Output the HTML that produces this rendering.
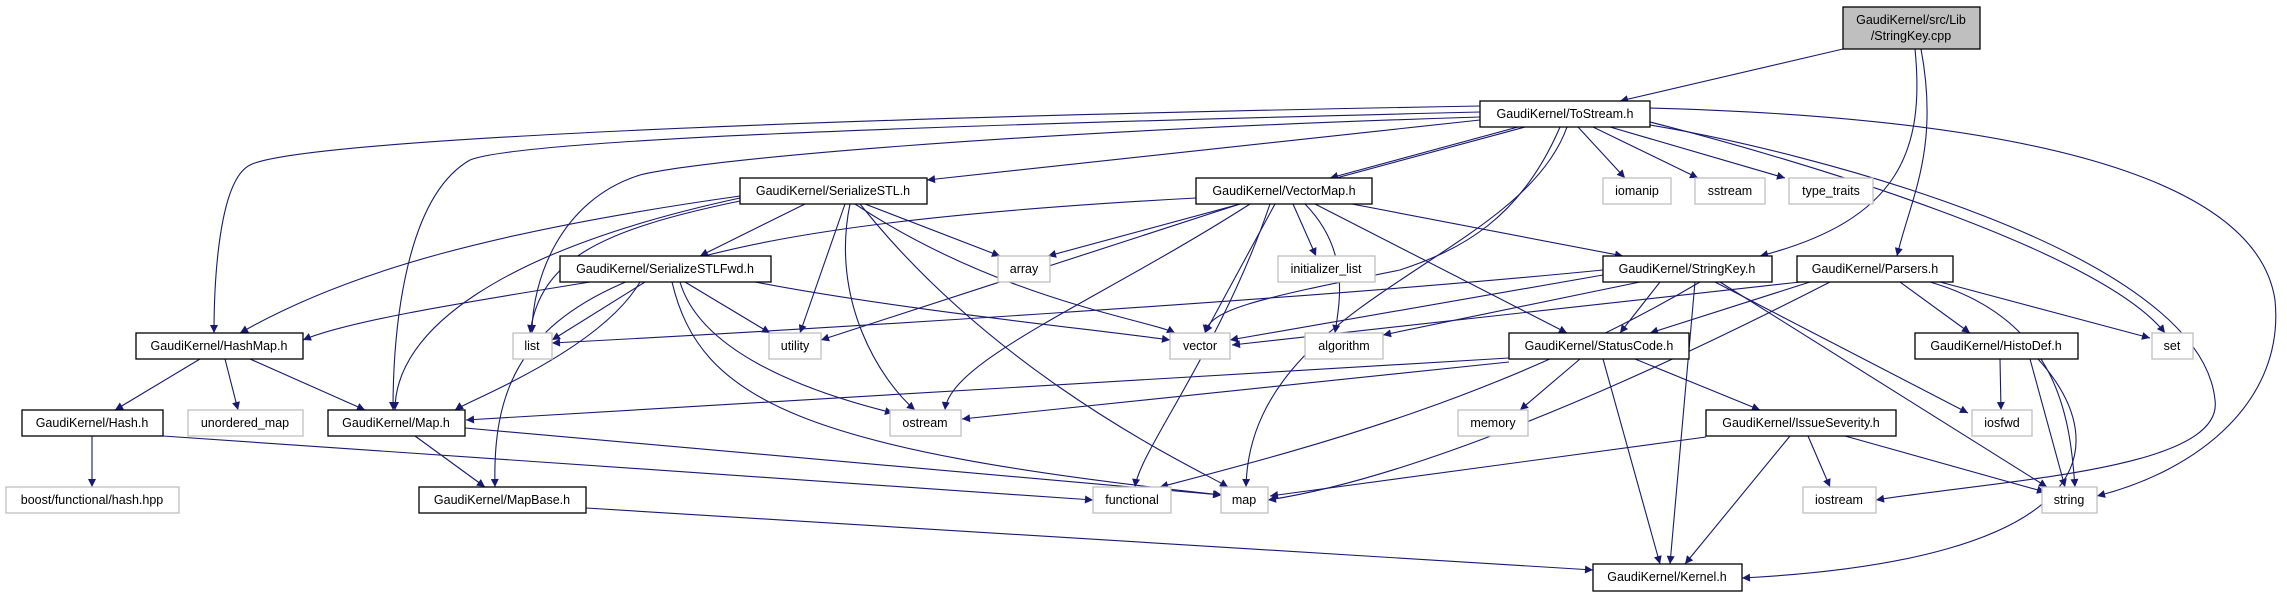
<!DOCTYPE html>
<html><head><meta charset="utf-8"><style>
html,body{margin:0;padding:0;background:#fff;}
svg{display:block;}
text{font-family:"Liberation Sans",sans-serif;font-size:12.5px;fill:#000;text-anchor:middle;dominant-baseline:central;}
.n{fill:#fff;stroke:#000;stroke-width:1.3;}
.g{fill:#fff;stroke:#bfbfbf;stroke-width:1.3;}
.e path{fill:none;stroke:#191970;stroke-width:1.1;marker-end:url(#a);}
</style></head><body>
<svg width="2287" height="597" viewBox="0 0 2287 597" xmlns="http://www.w3.org/2000/svg">
<defs><marker id="a" viewBox="0 0 10 10" refX="10" refY="5" markerWidth="10" markerHeight="8" markerUnits="userSpaceOnUse" orient="auto"><path d="M0,0 L10,5 L0,10 z" fill="#191970"/></marker></defs>
<g class="e">
<path d="M1843,49 L1620,101"/>
<path d="M1915,49 C1925,150 1900,220 1760,256"/>
<path d="M1921,49 C1940,150 1910,200 1897,256"/>
<path d="M1480,106 C800,118 300,140 250,165 C216,182 214,300 214,333"/>
<path d="M1480,112 C900,126 520,140 470,160 C400,200 393,350 393,410"/>
<path d="M1480,117 C1000,132 700,160 640,175 C560,200 532,280 532,333"/>
<path d="M1480,120 L927,180"/>
<path d="M1525,127 L1048,256"/>
<path d="M1518,127 L1330,178"/>
<path d="M1560,127 C1520,220 1460,250 1400,270 C1250,300 1210,310 1205,333"/>
<path d="M1567,127 C1520,260 1250,300 1246,487"/>
<path d="M1578,127 L1625,178"/>
<path d="M1593,127 L1698,178"/>
<path d="M1610,127 L1785,178"/>
<path d="M1650,122 C1800,160 2100,250 2165,333"/>
<path d="M1650,125 C1800,150 2200,250 2215,400 C2225,470 2000,480 1876,500"/>
<path d="M1650,108 C2100,120 2260,200 2275,300 C2285,400 2200,470 2097,496"/>
<path d="M805,204 L700,256"/>
<path d="M740,196 C500,230 350,270 240,333"/>
<path d="M740,198 C500,250 395,330 395,410"/>
<path d="M740,201 C600,230 540,260 530,333"/>
<path d="M845,204 L800,333"/>
<path d="M850,204 C830,300 880,380 915,410"/>
<path d="M865,204 L1000,256"/>
<path d="M855,204 C1000,300 1150,320 1175,333"/>
<path d="M860,204 C1000,380 1200,470 1228,487"/>
<path d="M590,282 C480,300 350,320 303,340"/>
<path d="M640,282 C600,350 470,400 455,410"/>
<path d="M645,282 L552,340"/>
<path d="M685,282 L770,333"/>
<path d="M680,282 C700,350 800,390 893,413"/>
<path d="M755,282 C900,310 1100,330 1170,340"/>
<path d="M672,282 C700,400 800,450 1222,495"/>
<path d="M1196,198 C600,230 490,300 495,487"/>
<path d="M1240,204 L821,340"/>
<path d="M1250,204 C1100,300 950,360 945,410"/>
<path d="M1270,204 C1220,350 1140,450 1135,487"/>
<path d="M1275,204 L1205,333"/>
<path d="M1293,204 L1316,256"/>
<path d="M1305,204 C1350,250 1340,300 1335,333"/>
<path d="M1315,204 L1567,333"/>
<path d="M1352,204 L1623,256"/>
<path d="M1603,275 L1230,340"/>
<path d="M1603,270 C1300,300 800,330 552,343"/>
<path d="M1640,282 L1383,335"/>
<path d="M1660,282 L1620,333"/>
<path d="M1700,282 C1500,400 1300,450 1160,487"/>
<path d="M1695,282 L1670,564"/>
<path d="M1720,282 L2047,487"/>
<path d="M1715,282 L1968,413"/>
<path d="M1800,282 L1232,345"/>
<path d="M1830,282 C1600,400 1400,480 1268,500"/>
<path d="M1509,358 L466,420"/>
<path d="M1509,362 L962,419"/>
<path d="M1810,282 L1650,333"/>
<path d="M1900,282 L1970,333"/>
<path d="M1940,282 L2150,338"/>
<path d="M1930,282 C2060,320 2070,420 2075,487"/>
<path d="M200,359 L115,410"/>
<path d="M225,359 L238,410"/>
<path d="M250,359 L365,410"/>
<path d="M92,436 L92,487"/>
<path d="M163,436 L1093,500"/>
<path d="M415,436 L485,487"/>
<path d="M465,428 L1221,495"/>
<path d="M586,508 L1593,570"/>
<path d="M1580,359 L1520,410"/>
<path d="M1635,359 L1760,410"/>
<path d="M1603,359 L1660,564"/>
<path d="M1706,437 L1270,496"/>
<path d="M1808,436 L1830,487"/>
<path d="M1845,436 L2045,492"/>
<path d="M1790,436 L1685,564"/>
<path d="M2000,359 L2001,410"/>
<path d="M2030,359 L2065,487"/>
<path d="M2038,359 C2120,450 2090,560 1742,578"/>
</g>
<rect x="1843" y="7" width="137" height="42" fill="#bfbfbf" stroke="#000" stroke-width="1.3"/>
<text x="1911" y="20">GaudiKernel/src/Lib</text><text x="1911" y="36">/StringKey.cpp</text>
<rect class="n" x="1480" y="101" width="170" height="26"/><text x="1565" y="114">GaudiKernel/ToStream.h</text>
<rect class="n" x="1196" y="178" width="176" height="26"/><text x="1284" y="191">GaudiKernel/VectorMap.h</text>
<rect class="n" x="740" y="178" width="187" height="26"/><text x="833" y="191">GaudiKernel/SerializeSTL.h</text>
<rect class="g" x="1603" y="178" width="68" height="26"/><text x="1637" y="191">iomanip</text>
<rect class="g" x="1695" y="178" width="70" height="26"/><text x="1730" y="191">sstream</text>
<rect class="g" x="1789" y="178" width="84" height="26"/><text x="1831" y="191">type_traits</text>
<rect class="n" x="560" y="256" width="211" height="26"/><text x="665" y="269">GaudiKernel/SerializeSTLFwd.h</text>
<rect class="g" x="998" y="256" width="52" height="26"/><text x="1024" y="269">array</text>
<rect class="g" x="1278" y="256" width="97" height="26"/><text x="1326" y="269">initializer_list</text>
<rect class="n" x="1603" y="256" width="169" height="26"/><text x="1687" y="269">GaudiKernel/StringKey.h</text>
<rect class="n" x="1797" y="256" width="156" height="26"/><text x="1875" y="269">GaudiKernel/Parsers.h</text>
<rect class="n" x="136" y="333" width="167" height="26"/><text x="219" y="346">GaudiKernel/HashMap.h</text>
<rect class="g" x="513" y="333" width="39" height="26"/><text x="532" y="346">list</text>
<rect class="g" x="769" y="333" width="52" height="26"/><text x="795" y="346">utility</text>
<rect class="g" x="1170" y="333" width="60" height="26"/><text x="1200" y="346">vector</text>
<rect class="g" x="1305" y="333" width="78" height="26"/><text x="1344" y="346">algorithm</text>
<rect class="n" x="1509" y="333" width="180" height="26"/><text x="1599" y="346">GaudiKernel/StatusCode.h</text>
<rect class="n" x="1915" y="333" width="163" height="26"/><text x="1996" y="346">GaudiKernel/HistoDef.h</text>
<rect class="g" x="2152" y="333" width="41" height="26"/><text x="2172" y="346">set</text>
<rect class="n" x="22" y="410" width="141" height="26"/><text x="92" y="423">GaudiKernel/Hash.h</text>
<rect class="g" x="188" y="410" width="115" height="26"/><text x="245" y="423">unordered_map</text>
<rect class="n" x="328" y="410" width="137" height="26"/><text x="396" y="423">GaudiKernel/Map.h</text>
<rect class="g" x="890" y="410" width="71" height="26"/><text x="925" y="423">ostream</text>
<rect class="g" x="1458" y="410" width="70" height="26"/><text x="1493" y="423">memory</text>
<rect class="n" x="1706" y="410" width="190" height="26"/><text x="1801" y="423">GaudiKernel/IssueSeverity.h</text>
<rect class="g" x="1972" y="410" width="60" height="26"/><text x="2002" y="423">iosfwd</text>
<rect class="g" x="6" y="487" width="173" height="26"/><text x="92" y="500">boost/functional/hash.hpp</text>
<rect class="n" x="419" y="487" width="167" height="26"/><text x="502" y="500">GaudiKernel/MapBase.h</text>
<rect class="g" x="1093" y="487" width="78" height="26"/><text x="1132" y="500">functional</text>
<rect class="g" x="1221" y="487" width="47" height="26"/><text x="1244" y="500">map</text>
<rect class="g" x="1803" y="487" width="73" height="26"/><text x="1839" y="500">iostream</text>
<rect class="g" x="2042" y="487" width="55" height="26"/><text x="2069" y="500">string</text>
<rect class="n" x="1593" y="564" width="149" height="27"/><text x="1667" y="577">GaudiKernel/Kernel.h</text>
</svg>
</body></html>
